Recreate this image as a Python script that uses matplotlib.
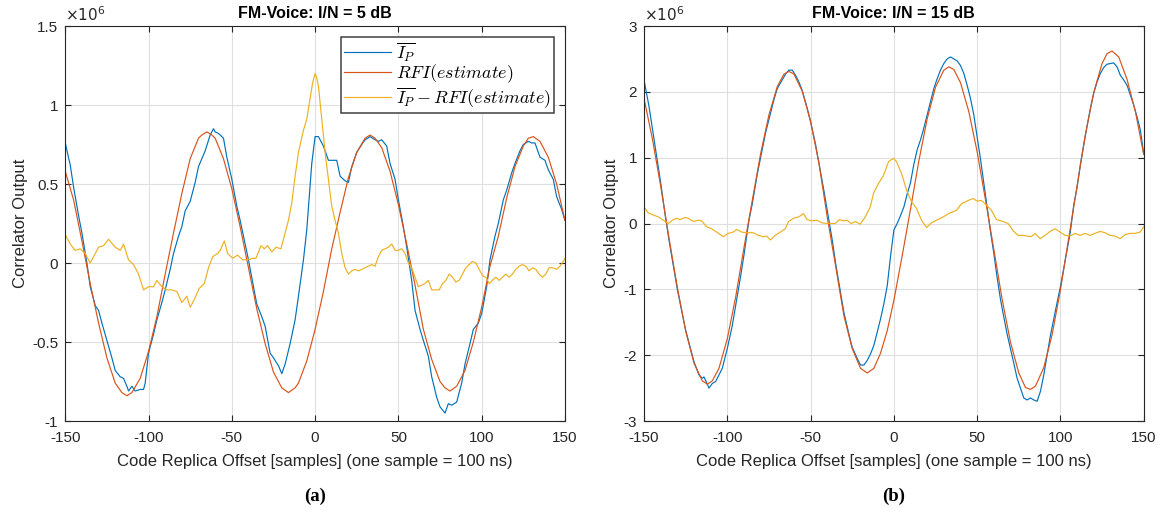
import matplotlib
matplotlib.use("Agg")
import matplotlib.pyplot as plt
import numpy as np

plt.rcParams['font.family'] = ['Liberation Sans', 'DejaVu Sans']
plt.rcParams['mathtext.fontset'] = 'cm'
plt.rcParams['axes.unicode_minus'] = False

# ---- (a) I/N = 5 dB, values in units of 1e6 ----
x_ip_a = [-150, -147, -145, -142, -140, -137, -135, -132, -130, -128, -125, -122, -120, -117, -115,
          -113, -112, -110, -108, -105, -103, -102, -100, -97, -95, -92, -90, -87, -85, -82, -80,
          -78, -75, -72, -70, -68, -66, -63, -61, -60, -58, -55, -53, -50, -47, -45, -42, -40,
          -37, -35, -32, -30, -27, -25, -22, -20, -18, -15, -12, -10, -7, -5, -2, 0, 2, 5, 8,
          10, 13, 15, 18, 20, 22, 25, 28, 30, 33, 36, 38, 40, 43, 45, 48, 50, 53, 55, 58, 60,
          63, 65, 68, 70, 73, 75, 78, 80, 82, 85, 88, 90, 93, 95, 98, 100, 103, 105, 108, 110,
          113, 115, 118, 120, 123, 125, 128, 130, 132, 135, 138, 140, 143, 145, 148, 150]
ip_a = [0.76, 0.62, 0.48, 0.30, 0.19, 0.00, -0.15, -0.27, -0.30, -0.38, -0.49, -0.60, -0.68, -0.72, -0.73,
        -0.78, -0.81, -0.78, -0.81, -0.80, -0.80, -0.76, -0.57, -0.45, -0.36, -0.25, -0.17, -0.04, 0.06, 0.17, 0.23,
        0.33, 0.39, 0.51, 0.61, 0.66, 0.71, 0.81, 0.85, 0.83, 0.82, 0.79, 0.67, 0.53, 0.36, 0.27, 0.12, 0.02,
        -0.15, -0.26, -0.34, -0.40, -0.57, -0.60, -0.65, -0.70, -0.64, -0.51, -0.36, -0.21, 0.02, 0.21, 0.63, 0.80, 0.80, 0.74, 0.65,
        0.65, 0.65, 0.55, 0.52, 0.51, 0.61, 0.70, 0.75, 0.78, 0.80, 0.78, 0.77, 0.78, 0.74, 0.63, 0.53, 0.40, 0.23, 0.10, -0.11, -0.30,
        -0.42, -0.49, -0.59, -0.72, -0.85, -0.91, -0.95, -0.89, -0.90, -0.88, -0.76, -0.64, -0.51, -0.42, -0.38, -0.32, -0.15, 0.02, 0.17, 0.25,
        0.40, 0.46, 0.57, 0.63, 0.71, 0.75, 0.77, 0.76, 0.76, 0.67, 0.65, 0.59, 0.53, 0.42, 0.34, 0.27]

x_rfi_a = [-150, -145, -140, -135, -130, -125, -120, -116, -113, -110, -105, -100, -95, -90, -85, -80,
           -75, -70, -68, -65, -62, -60, -55, -50, -45, -40, -35, -30, -25, -20, -16, -12, -10, -5,
           0, 5, 10, 15, 20, 25, 30, 33, 36, 40, 45, 50, 55, 60, 65, 70, 75, 78, 81, 85, 90, 95,
           100, 105, 110, 115, 120, 125, 128, 131, 135, 140, 145, 150]
rfi_a = [0.58, 0.40, 0.14, -0.13, -0.38, -0.60, -0.76, -0.82, -0.84, -0.82, -0.73, -0.56, -0.34, -0.07, 0.19, 0.44,
         0.66, 0.79, 0.81, 0.83, 0.81, 0.79, 0.66, 0.47, 0.23, -0.03, -0.29, -0.51, -0.69, -0.79, -0.82, -0.79, -0.76, -0.62,
         -0.42, -0.18, 0.09, 0.32, 0.54, 0.70, 0.79, 0.81, 0.79, 0.73, 0.58, 0.37, 0.12, -0.14, -0.42, -0.61, -0.75, -0.79, -0.81, -0.78, -0.68, -0.50,
         -0.28, -0.02, 0.17, 0.41, 0.61, 0.74, 0.79, 0.80, 0.77, 0.67, 0.50, 0.27]

x_diff_a = [-150, -147, -144, -141, -138, -135, -132, -130, -127, -124, -120, -117, -115, -112, -109, -106,
            -103, -100, -97, -95, -92, -89, -86, -83, -80, -77, -75, -72.5, -69.5, -66.5, -64, -61.5,
            -58.5, -57, -54.5, -52.5, -49.5, -46.5, -43.5, -40.5, -37.5, -35.5, -32.5, -30.5, -28.5,
            -26, -23.5, -20.5, -19, -16, -14, -12, -10, -7, -5, -3, -1.5, 0, 1, 2, 4, 6, 8, 10, 12,
            14, 16, 18, 20, 22, 24, 26, 28, 30, 32, 34, 36, 38, 40, 42, 44, 46, 48, 50, 52, 54, 56,
            58, 60, 62, 64, 66, 68, 70, 72, 74.5, 76.5, 78.5, 80.5, 82.5, 84.5, 86.5, 88.5, 90.5,
            92.5, 94.5, 96.5, 98.5, 100.5, 102.5, 104.5, 106.5, 108.5, 110.5, 112.5, 114.5, 116.5,
            118.5, 120.5, 122.5, 124.5, 126.5, 128.5, 130.5, 132.5, 134.5, 136.5, 138.5, 140.5,
            142.5, 145, 147, 149, 150]
diff_a = [0.18, 0.12, 0.08, 0.09, 0.06, 0.00, 0.06, 0.10, 0.11, 0.15, 0.10, 0.08, 0.12, 0.02, -0.01, -0.07,
          -0.17, -0.15, -0.15, -0.11, -0.15, -0.17, -0.17, -0.18, -0.25, -0.21, -0.28, -0.23, -0.16, -0.13, -0.03, 0.04,
          0.06, 0.08, 0.14, 0.06, 0.03, 0.05, 0.02, 0.02, 0.03, 0.03, 0.11, 0.09, 0.11,
          0.07, 0.10, 0.09, 0.15, 0.27, 0.38, 0.55, 0.70, 0.84, 0.91, 1.04, 1.14, 1.20, 1.17, 1.12, 0.91, 0.70, 0.53, 0.36, 0.27,
          0.19, 0.06, -0.03, -0.07, -0.05, -0.04, -0.05, -0.04, -0.03, -0.02, -0.01, -0.02, 0.04, 0.08, 0.09, 0.10, 0.12, 0.08, 0.08, 0.09, 0.06, 0.00,
          -0.03, -0.09, -0.15, -0.14, -0.13, -0.11, -0.17, -0.17, -0.17, -0.13, -0.11, -0.07, -0.09, -0.12, -0.11, -0.07, -0.03,
          -0.01, 0.01, 0.00, -0.04, -0.08, -0.09, -0.13, -0.11, -0.09, -0.11, -0.09, -0.07, -0.09,
          -0.07, -0.04, -0.02, -0.01, -0.02, -0.05, -0.03, -0.04, -0.07, -0.09, -0.07, -0.03,
          -0.03, -0.04, -0.02, 0.01, 0.03]

# ---- (b) I/N = 15 dB ----
x_ip_b = [-150, -147, -145, -142, -140, -137, -135, -130, -125, -120, -117, -115, -114, -112, -111, -109,
          -107, -105, -103, -100, -97, -95, -92, -90, -87, -85, -82, -80, -77, -75, -72, -70, -67,
          -65, -63, -61, -59, -57, -55, -52, -50, -47, -45, -42, -40, -37, -35, -32, -30, -27, -25,
          -22, -20, -18, -16, -14, -12, -10, -8, -6, -4, -2, 0, 2, 4, 6, 8, 10, 12, 14, 16, 18, 20,
          22, 24, 26, 28, 30, 32, 34, 36, 38, 40, 42, 44, 46, 48, 50, 52, 54, 56, 58, 60, 62, 64,
          66, 68, 70, 72, 74, 76, 78, 80, 82, 84, 86, 88, 90, 92, 94, 96, 98, 100, 102, 104, 106,
          108, 110, 112, 114, 116, 118, 120, 122, 124, 126, 128, 130, 132, 134, 136, 138, 140, 142,
          144, 146, 148, 150]
ip_b = [2.18, 1.78, 1.45, 0.95, 0.62, 0.08, -0.25, -1.00, -1.62, -2.10, -2.30, -2.35, -2.33, -2.44, -2.50, -2.43,
        -2.40, -2.30, -2.20, -1.90, -1.55, -1.25, -0.80, -0.48, 0.05, 0.30, 0.75, 1.00, 1.38, 1.58, 1.88, 2.05, 2.18,
        2.27, 2.33, 2.33, 2.25, 2.15, 2.02, 1.75, 1.55, 1.20, 0.92, 0.50, 0.20, -0.25, -0.60, -1.05, -1.35, -1.68, -1.88,
        -2.05, -2.15, -2.15, -2.08, -1.98, -1.85, -1.65, -1.45, -1.22, -0.95, -0.50, -0.10, 0.00, 0.12, 0.25, 0.45, 0.62, 0.90, 1.12, 1.27, 1.45, 1.65,
        1.85, 2.05, 2.20, 2.33, 2.43, 2.50, 2.53, 2.50, 2.47, 2.40, 2.28, 2.10, 1.90, 1.65, 1.32, 0.98, 0.62, 0.25, -0.12, -0.45, -0.82, -1.15,
        -1.42, -1.68, -1.90, -2.12, -2.35, -2.50, -2.65, -2.68, -2.65, -2.68, -2.70, -2.55, -2.30, -2.00, -1.70, -1.45, -1.20, -0.96, -0.68, -0.40, -0.12,
        0.28, 0.55, 0.90, 1.20, 1.48, 1.75, 1.98, 2.15, 2.28, 2.37, 2.42, 2.43, 2.44, 2.38, 2.25, 2.18, 2.10, 1.95,
        1.80, 1.62, 1.42, 1.06]

x_rfi_b = [-150, -145, -140, -135, -130, -125, -120, -115, -112, -109, -105, -100, -95, -90, -85, -80,
           -75, -70, -66, -63, -60, -55, -50, -45, -40, -35, -30, -25, -20, -16, -12, -8, -4, 0, 5,
           10, 15, 20, 25, 30, 33, 36, 40, 45, 50, 55, 60, 65, 70, 75, 79, 82, 85, 90, 95, 100,
           105, 110, 115, 120, 125, 128, 131, 135, 140, 145, 150]
rfi_b = [1.90, 1.29, 0.57, -0.22, -0.97, -1.63, -2.12, -2.39, -2.44, -2.39, -2.20, -1.75, -1.12, -0.37, 0.35, 1.06,
         1.65, 2.08, 2.27, 2.31, 2.27, 2.01, 1.55, 0.92, 0.10, -0.64, -1.40, -1.90, -2.20, -2.27, -2.20, -1.97, -1.63, -1.17, -0.49,
         0.22, 0.95, 1.59, 2.07, 2.33, 2.38, 2.34, 2.14, 1.70, 1.09, 0.36, -0.39, -1.15, -1.80, -2.27, -2.49, -2.52, -2.47, -2.19, -1.69, -1.01,
         -0.22, 0.57, 1.35, 1.99, 2.43, 2.58, 2.62, 2.53, 2.19, 1.70, 1.05]

x_diff_b = [-150, -147.4, -144.4, -141.4, -138.4, -135.4, -132.4, -130.4, -128.4, -125.4, -123.4, -120.4,
            -117.4, -115.4, -112.4, -109.4, -106.4, -102.4, -99.4, -96.4, -94.4, -91.4, -88.4, -84.4,
            -81.4, -78.4, -76.4, -74.2, -71.2, -68.2, -65.2, -63.2, -60.2, -57.2, -54.2, -52.2, -49.2,
            -46.2, -43.2, -40.2, -37.2, -35.2, -32.8, -30.2, -28.2, -25.6, -23.2, -20.2, -17.2, -14.2,
            -12.2, -9.2, -6.2, -3.2, -0.2, 1.6, 4.6, 7.6, 10.6, 13.6, 16.6, 19.6, 22.6, 25.6, 29.6,
            33.6, 37.6, 40.6, 44.6, 47.6, 50, 52.6, 55.6, 58.6, 61.6, 65.6, 68.6, 71.6, 74.6, 77.5,
            80, 82.5, 84.8, 87.8, 90.8, 93.8, 96.8, 99.8, 102.8, 105.8, 108.8, 111.8, 114.8, 117.8,
            120.8, 123.8, 126.8, 129.8, 132.8, 135.8, 138.8, 141.8, 144.8, 147.8, 150]
diff_b = [0.25, 0.16, 0.13, 0.10, 0.05, 0.00, 0.06, 0.08, 0.06, 0.09, 0.08, 0.03,
          0.05, 0.04, -0.05, -0.08, -0.13, -0.20, -0.15, -0.13, -0.09, -0.13, -0.14, -0.14,
          -0.18, -0.20, -0.19, -0.25, -0.18, -0.13, -0.08, 0.03, 0.08, 0.10, 0.15, 0.06, 0.04,
          0.05, 0.01, 0.00, 0.00, 0.00, 0.06, 0.04, 0.05, 0.00, 0.03, -0.01, 0.10, 0.25,
          0.46, 0.61, 0.73, 0.94, 0.99, 0.94, 0.76, 0.51, 0.33, 0.23, 0.05, -0.06, 0.01, 0.05, 0.10,
          0.16, 0.20, 0.30, 0.35, 0.38, 0.34, 0.35, 0.28, 0.20, 0.06, 0.03, 0.00, -0.11, -0.18, -0.18,
          -0.19, -0.20, -0.15, -0.23, -0.18, -0.12, -0.08, -0.13, -0.18, -0.19, -0.15, -0.18, -0.15, -0.18,
          -0.15, -0.12, -0.14, -0.18, -0.19, -0.23, -0.17, -0.15, -0.15, -0.13, -0.05]

xticks = [-150, -100, -50, 0, 50, 100, 150]
titles = ['FM-Voice: I/N = 5 dB', 'FM-Voice: I/N = 15 dB']
captions = ['(a)', '(b)']
legend_labels = [r'$\overline{I_P}$', r'$RFI(estimate)$', r'$\overline{I_P}-RFI(estimate)$']

c_blue = '#0072BD'
c_red = '#D95319'
c_yel = '#EDB120'
ink = '#262626'

fig = plt.figure(figsize=(11.61, 5.12), dpi=100)
ax1 = fig.add_axes([0.0562, 0.1777, 0.4304, 0.7715])
ax2 = fig.add_axes([0.5547, 0.1777, 0.4304, 0.7715])

panels = [
    (ax1, x_ip_a, ip_a, x_rfi_a, rfi_a, x_diff_a, diff_a, (-1, 1.5), [-1, -0.5, 0, 0.5, 1, 1.5]),
    (ax2, x_ip_b, ip_b, x_rfi_b, rfi_b, x_diff_b, diff_b, (-3, 3), [-3, -2, -1, 0, 1, 2, 3]),
]

for i, (ax, xi, yi, xr, yr, xd, yd, ylim, yticks) in enumerate(panels):
    l1, = ax.plot(xi, yi, color=c_blue, lw=0.85)
    l2, = ax.plot(xr, yr, color=c_red, lw=0.85)
    l3, = ax.plot(xd, yd, color=c_yel, lw=0.85)
    ax.set_xlim(-150, 150)
    ax.set_ylim(*ylim)
    ax.set_xticks(xticks)
    ax.set_yticks(yticks)
    ax.set_yticklabels(['%g' % t for t in yticks])
    ax.grid(True, color='#dfdfdf', lw=0.8)
    ax.set_axisbelow(True)
    ax.tick_params(direction='in', top=True, right=True, length=4, colors=ink,
                   labelsize=11, labelcolor=ink)
    ax.tick_params(axis='x', pad=7)
    ax.tick_params(axis='y', pad=5)
    for s in ax.spines.values():
        s.set_color(ink)
        s.set_linewidth(0.8)
    ax.set_title(titles[i], fontsize=11.5, fontweight='bold', color='black', pad=6)
    ax.set_xlabel('Code Replica Offset [samples] (one sample = 100 ns)', fontsize=12,
                  color=ink, labelpad=7)
    ax.set_ylabel('Correlator Output', fontsize=12, color=ink, labelpad=3)
    ax.text(0.0, 1.004, r'$\times10^{6}$', transform=ax.transAxes, fontsize=11,
            color=ink, va='bottom', ha='left', family='DejaVu Sans',
            math_fontfamily='dejavusans')
    if i == 0:
        leg = ax.legend([l1, l2, l3], legend_labels, loc='upper right',
                        bbox_to_anchor=(0.978, 0.972), borderaxespad=0, fontsize=13,
                        fancybox=False, framealpha=1, edgecolor='#404040',
                        handlelength=2.6, handletextpad=0.3, borderpad=0.15,
                        labelspacing=0.0)
        leg.get_frame().set_linewidth(1.1)
    fig.text(ax.get_position().x0 + ax.get_position().width / 2, 0.03, captions[i],
             ha='center', va='center', fontsize=13.5, fontweight='bold',
             family=['Liberation Serif', 'DejaVu Serif'])

fig.savefig('out.png', dpi=100)
